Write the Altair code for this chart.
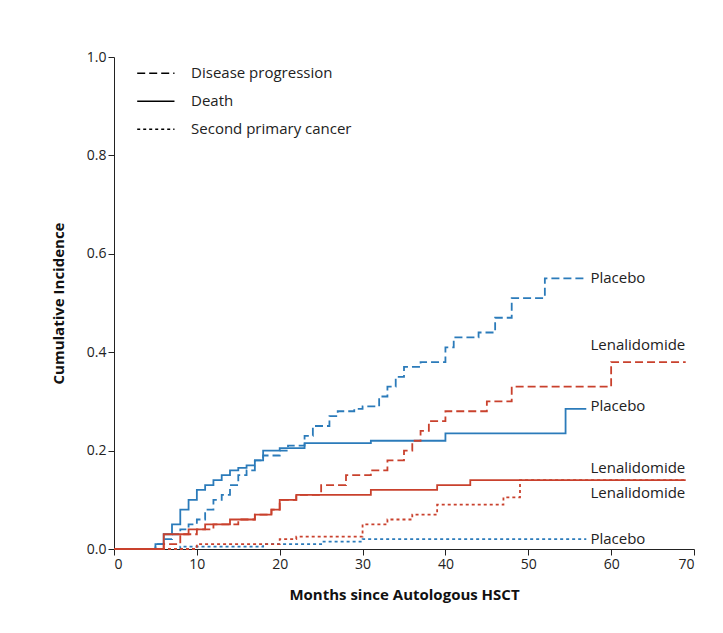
import altair as alt
import pandas as pd

# step curves: months, cumulative incidence
pp_m = [0, 5, 6, 7, 8, 9, 10, 11, 12, 13, 14, 15, 16, 17, 18, 20, 21, 23, 24, 26, 27, 29, 30, 32, 33, 34, 35, 37, 39, 40, 41, 44, 46, 48, 52, 57]
pp_v = [0, 0.01, 0.02, 0.03, 0.04, 0.05, 0.06, 0.08, 0.1, 0.11, 0.13, 0.15, 0.16, 0.18, 0.19, 0.2, 0.21, 0.23, 0.25, 0.27, 0.28, 0.285, 0.29, 0.31, 0.33, 0.35, 0.37, 0.38, 0.38, 0.41, 0.43, 0.44, 0.47, 0.51, 0.55, 0.55]
pd_m = [0, 5, 6, 7, 8, 9, 10, 11, 12, 13, 14, 15, 16, 17, 18, 20, 23, 31, 40, 54.5, 57]
pd_v = [0, 0.01, 0.03, 0.05, 0.08, 0.1, 0.12, 0.13, 0.14, 0.15, 0.16, 0.165, 0.17, 0.18, 0.2, 0.205, 0.215, 0.22, 0.235, 0.285, 0.285]
ps_m = [0, 8, 18, 25, 30, 57]
ps_v = [0, 0.005, 0.01, 0.015, 0.02, 0.02]
lp_m = [0, 6, 8, 10, 12, 15, 17, 19, 20, 22, 25, 28, 31, 33, 35, 36, 37, 38, 40, 45, 48, 60, 69]
lp_v = [0, 0.01, 0.03, 0.04, 0.05, 0.06, 0.07, 0.08, 0.1, 0.11, 0.13, 0.15, 0.16, 0.18, 0.2, 0.22, 0.24, 0.26, 0.28, 0.3, 0.33, 0.38, 0.38]
ld_m = [0, 6, 9, 11, 14, 17, 19, 20, 22, 31, 39, 43, 69]
ld_v = [0, 0.03, 0.04, 0.05, 0.06, 0.07, 0.08, 0.1, 0.11, 0.12, 0.13, 0.14, 0.14]
ls_m = [0, 10, 20, 22, 30, 33, 36, 39, 47, 49, 69]
ls_v = [0, 0.01, 0.02, 0.025, 0.05, 0.06, 0.07, 0.09, 0.105, 0.14, 0.14]

curves = [
    ("Placebo", "Disease progression", pp_m, pp_v),
    ("Placebo", "Death", pd_m, pd_v),
    ("Placebo", "Second primary cancer", ps_m, ps_v),
    ("Lenalidomide", "Disease progression", lp_m, lp_v),
    ("Lenalidomide", "Death", ld_m, ld_v),
    ("Lenalidomide", "Second primary cancer", ls_m, ls_v),
]
rows = []
for arm, ev, ms, vs in curves:
    for m, v in zip(ms, vs):
        rows.append({"arm": arm, "event": ev, "key": arm + ev, "m": m, "v": v})
df = pd.DataFrame(rows)

events = ["Disease progression", "Death", "Second primary cancer"]
dashes = [[8, 4], [1, 0], [3, 3]]
arms = ["Placebo", "Lenalidomide"]
colors = ["#2b7bba", "#c9412d"]

lab_text = ["Placebo", "Lenalidomide", "Placebo", "Lenalidomide", "Lenalidomide", "Placebo"]
lab_x = [57.5, 57.5, 57.5, 57.5, 57.5, 57.5]
lab_y = [0.55, 0.415, 0.29, 0.165, 0.113, 0.02]
labels = pd.DataFrame({"t": lab_text, "x": lab_x, "y": lab_y})

leg = pd.DataFrame({"event": events, "x1": [2.8] * 3, "x2": [7.3] * 3, "y": [0.967, 0.91, 0.853], "tx": [9.3] * 3})

X = alt.X("m:Q", title="Months since Autologous HSCT", scale=alt.Scale(domain=[0, 70], nice=False),
          axis=alt.Axis(values=list(range(0, 71, 10)), grid=False, titlePadding=16))
Y = alt.Y("v:Q", title="Cumulative Incidence", scale=alt.Scale(domain=[0, 1]),
          axis=alt.Axis(values=[0, 0.2, 0.4, 0.6, 0.8, 1.0], format=".1f", grid=False, titlePadding=20))

lines = alt.Chart(df).mark_line(interpolate="step-after", strokeWidth=1.8).encode(
    x=X, y=Y,
    color=alt.Color("arm:N", scale=alt.Scale(domain=arms, range=colors), legend=None),
    strokeDash=alt.StrokeDash("event:N", scale=alt.Scale(domain=events, range=dashes), legend=None),
    detail="key:N",
)
text = alt.Chart(labels).mark_text(align="left", fontSize=15, font="Open Sans", color="#222").encode(
    x="x:Q", y="y:Q", text="t:N")
legrule = alt.Chart(leg).mark_rule(color="black", strokeWidth=1.6).encode(
    x="x1:Q", x2="x2:Q", y="y:Q",
    strokeDash=alt.StrokeDash("event:N", scale=alt.Scale(domain=events, range=dashes), legend=None))
legtext = alt.Chart(leg).mark_text(align="left", fontSize=15, font="Open Sans", color="#222").encode(
    x="tx:Q", y="y:Q", text="event:N")

chart = alt.layer(lines, legrule, legtext, text).properties(
    width=580, height=492, autosize=alt.AutoSizeParams(type="none"),
    padding={"left": 106, "top": 49, "right": 17, "bottom": 76},
).configure_view(stroke=None).configure_axis(
    labelFont="Open Sans", labelFontSize=14, labelColor="#222", titleFont="Open Sans",
    titleFontSize=15, titleFontWeight="bold", titleColor="#111", domainColor="#222",
    tickColor="#222", tickSize=6,
)
chart.save("out.html", embed_options={"renderer": "svg", "actions": False})
